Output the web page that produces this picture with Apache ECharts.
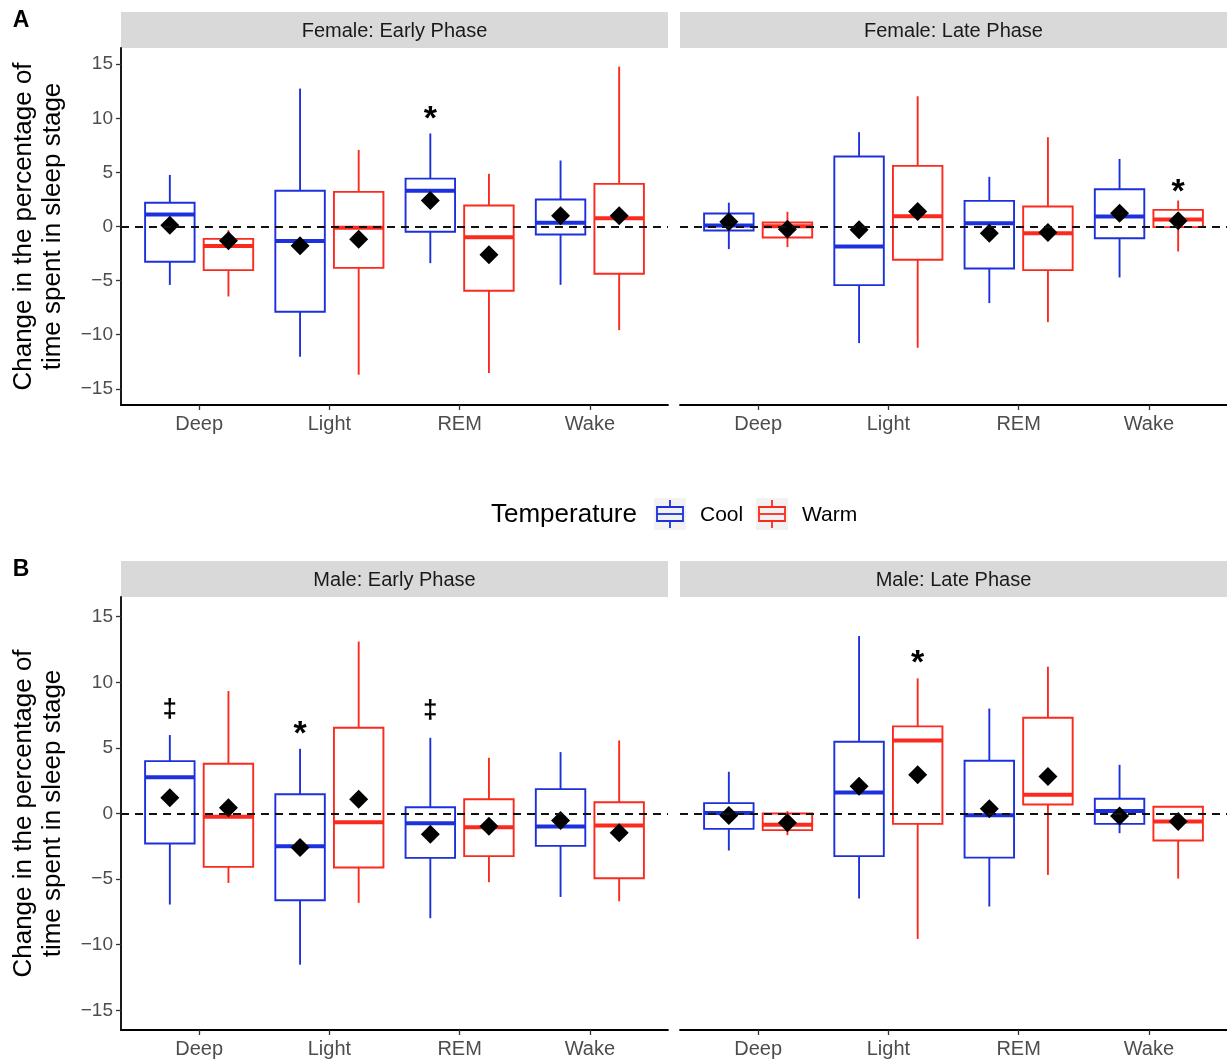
<!DOCTYPE html>
<html>
<head>
<meta charset="utf-8">
<script src="https://cdn.jsdelivr.net/npm/echarts@6/dist/echarts.min.js"></script>
<style>
  html, body { margin: 0; padding: 0; background: #fff; }
  #chart { width: 1227px; height: 1062px; }
</style>
</head>
<body>
<div id="chart"></div>
<script>
// sleep stages on the x axis, facet titles, y ticks
const stages = ['Deep', 'Light', 'REM', 'Wake'];
const panelTitles = ['Female: Early Phase', 'Female: Late Phase', 'Male: Early Phase', 'Male: Late Phase'];
const yTicks = [-15, -10, -5, 0, 5, 10, 15];

// box stats per stage: [lower whisker, Q1, median, Q3, upper whisker]
const femaleEarlyCool = [
  [-5.4, -3.26, 1.1, 2.2, 4.77],
  [-12.04, -7.88, -1.35, 3.3, 12.75],
  [-3.39, -0.49, 3.3, 4.43, 8.6],
  [-5.39, -0.74, 0.34, 2.5, 6.1],
];
const femaleEarlyWarm = [
  [-6.47, -4.03, -1.8, -1.14, -0.34],
  [-13.7, -3.82, -0.12, 3.2, 7.08],
  [-13.55, -5.94, -0.99, 1.94, 4.87],
  [-9.58, -4.37, 0.77, 3.94, 14.78],
];
const femaleLateCool = [
  [-2.09, -0.37, 0.09, 1.2, 2.2],
  [-10.78, -5.42, -1.85, 6.47, 8.72],
  [-7.08, -3.88, 0.31, 2.37, 4.59],
  [-4.71, -1.08, 0.92, 3.45, 6.25],
];
const femaleLateWarm = [
  [-1.91, -1.02, 0.03, 0.37, 1.36],
  [-11.21, -3.08, 0.95, 5.6, 12.04],
  [-8.84, -4.03, -0.62, 1.85, 8.25],
  [-2.31, -0.06, 0.65, 1.54, 2.4],
];
const maleEarlyCool = [
  [-6.94, -2.29, 2.77, 3.99, 5.98],
  [-11.52, -6.61, -2.49, 1.47, 4.93],
  [-7.98, -3.38, -0.74, 0.48, 5.77],
  [-6.36, -2.47, -0.99, 1.86, 4.68],
];
const maleEarlyWarm = [
  [-5.29, -4.07, -0.25, 3.79, 9.33],
  [-6.81, -4.12, -0.66, 6.53, 13.1],
  [-5.24, -3.25, -1.04, 1.09, 4.25],
  [-6.69, -4.93, -0.92, 0.86, 5.57],
];
const maleLateCool = [
  [-2.82, -1.17, 0.03, 0.79, 3.18],
  [-6.48, -3.25, 1.6, 5.47, 13.53],
  [-7.09, -3.36, -0.13, 4.02, 8.0],
  [-1.5, -0.79, 0.2, 1.12, 3.71],
];
const maleLateWarm = [
  [-1.65, -1.27, -0.86, 0.0, 0.18],
  [-9.56, -0.79, 5.57, 6.64, 10.3],
  [-4.68, 0.69, 1.42, 7.3, 11.19],
  [-4.96, -2.06, -0.61, 0.51, 0.56],
];

// group means (black diamonds)
const femaleEarlyCoolMean = [0.12, -1.79, 2.4, 0.99];
const femaleEarlyWarmMean = [-1.32, -1.17, -2.62, 0.99];
const femaleLateCoolMean = [0.43, -0.31, -0.62, 1.23];
const femaleLateWarmMean = [-0.25, 1.39, -0.55, 0.52];
const maleEarlyCoolMean = [1.2, -2.59, -1.58, -0.53];
const maleEarlyWarmMean = [0.43, 1.09, -0.97, -1.47];
const maleLateCoolMean = [-0.15, 2.08, 0.36, -0.2];
const maleLateWarmMean = [-0.71, 2.95, 2.82, -0.61];

// significance marks: [panel, stage, group (0 cool / 1 warm), y, symbol]
const sigMarks = [
  [0, 2, 0, 10.6, '*'],
  [1, 3, 1, 3.9, '*'],
  [2, 0, 0, 7.9, '\u2021'],
  [2, 1, 0, 6.6, '*'],
  [2, 2, 0, 7.8, '\u2021'],
  [3, 1, 1, 12.05, '*'],
];

const COOL = '#1c30dc';
const WARM = '#fb2a1e';
const FONT = '"Liberation Sans", Arial, Helvetica, sans-serif';
const DODGE = 0.225;   // half of the dodge width (0.9)
const BOX_WIDTH = 0.38;

const panels = [
  { cool: femaleEarlyCool, warm: femaleEarlyWarm, coolMean: femaleEarlyCoolMean, warmMean: femaleEarlyWarmMean },
  { cool: femaleLateCool, warm: femaleLateWarm, coolMean: femaleLateCoolMean, warmMean: femaleLateWarmMean },
  { cool: maleEarlyCool, warm: maleEarlyWarm, coolMean: maleEarlyCoolMean, warmMean: maleEarlyWarmMean },
  { cool: maleLateCool, warm: maleLateWarm, coolMean: maleLateCoolMean, warmMean: maleLateWarmMean },
];

// facet layout (px), matches the ggplot panels
const GRIDS = [
  { left: 121, top: 48, width: 547, height: 357 },
  { left: 680, top: 48, width: 547, height: 357 },
  { left: 121, top: 597, width: 547, height: 433 },
  { left: 680, top: 597, width: 547, height: 433 },
];
const STRIP_H = 36;

const xPos = (stage, group) => stage + 1 + (group === 0 ? -DODGE : DODGE);

const renderBox = (color) => (params, api) => {
  const x = api.value(0);
  const low = api.coord([x, api.value(1)]);
  const q1 = api.coord([x, api.value(2)]);
  const med = api.coord([x, api.value(3)]);
  const q3 = api.coord([x, api.value(4)]);
  const high = api.coord([x, api.value(5)]);
  const half = api.size([BOX_WIDTH, 0])[0] / 2;
  const cx = q1[0];
  const thin = { stroke: color, lineWidth: 1.9, fill: null };
  return {
    type: 'group',
    children: [
      { type: 'line', shape: { x1: cx, y1: high[1], x2: cx, y2: q3[1] }, style: thin },
      { type: 'line', shape: { x1: cx, y1: q1[1], x2: cx, y2: low[1] }, style: thin },
      { type: 'rect', shape: { x: cx - half, y: q3[1], width: half * 2, height: q1[1] - q3[1] }, style: thin },
      { type: 'line', shape: { x1: cx - half, y1: med[1], x2: cx + half, y2: med[1] }, style: { stroke: color, lineWidth: 4 } },
    ],
  };
};

const renderMark = (params, api) => {
  const p = api.coord([api.value(0), api.value(1)]);
  const sym = sigMarkText[params.seriesIndex][params.dataIndex];
  const isStar = sym === '*';
  return {
    type: 'text',
    x: p[0],
    y: p[1] + (isStar ? 8 : 0),
    style: {
      text: sym,
      fill: '#000',
      font: isStar ? 'bold 34px ' + FONT : 'bold 26px ' + FONT,
      align: 'center', textAlign: 'center',
      verticalAlign: 'middle', textVerticalAlign: 'middle',
    },
  };
};

const series = [];
const sigMarkText = {};

panels.forEach((pnl, i) => {
  [['Cool', pnl.cool, COOL], ['Warm', pnl.warm, WARM]].forEach(([name, boxes, color], g) => {
    series.push({
      name,
      type: 'custom',
      xAxisIndex: i,
      yAxisIndex: i,
      z: 2,
      silent: true,
      renderItem: renderBox(color),
      encode: { x: 0, y: [1, 2, 3, 4, 5] },
      data: boxes.map((b, s) => [xPos(s, g), ...b]),
      markLine: g === 0 ? {
        silent: true,
        symbol: 'none',
        label: { show: false },
        lineStyle: { color: '#111', type: [8, 6], width: 2 },
        data: [{ yAxis: 0 }],
      } : undefined,
    });
  });
  [[pnl.coolMean, 0], [pnl.warmMean, 1]].forEach(([means, g]) => {
    series.push({
      type: 'scatter',
      xAxisIndex: i,
      yAxisIndex: i,
      z: 4,
      silent: true,
      symbol: 'diamond',
      symbolSize: 19,
      itemStyle: { color: '#000', opacity: 1 },
      data: means.map((m, s) => [xPos(s, g), m]),
    });
  });
  const marks = sigMarks.filter((m) => m[0] === i);
  if (marks.length) {
    sigMarkText[series.length] = marks.map((m) => m[4]);
    series.push({
      type: 'custom',
      xAxisIndex: i,
      yAxisIndex: i,
      z: 5,
      silent: true,
      renderItem: renderMark,
      encode: { x: 0, y: 1 },
      data: marks.map((m) => [xPos(m[1], m[2]), m[3]]),
    });
  }
});

const xAxes = GRIDS.map((_, i) => ({
  gridIndex: i,
  type: 'value',
  min: 0.4,
  max: 4.6,
  axisLine: { show: true, onZero: false, lineStyle: { color: '#000', width: 1.8 } },
  axisTick: { show: true, customValues: [1, 2, 3, 4], length: 5, lineStyle: { color: '#333', width: 1.3 } },
  axisLabel: {
    customValues: [1, 2, 3, 4],
    formatter: (v) => stages[Math.round(v) - 1],
    color: '#4d4d4d', fontSize: 20, fontFamily: FONT, margin: 9,
  },
  splitLine: { show: false },
}));

const yAxes = GRIDS.map((_, i) => {
  const show = i % 2 === 0;
  return {
    gridIndex: i,
    type: 'value',
    min: -16.5,
    max: 16.5,
    axisLine: { show, onZero: false, lineStyle: { color: '#000', width: 1.8 } },
    axisTick: { show, customValues: yTicks, length: 5, lineStyle: { color: '#333', width: 1.3 } },
    axisLabel: {
      show,
      customValues: yTicks,
      formatter: (v) => String(v).replace('-', '\u2212'),
      color: '#4d4d4d', fontSize: 19, fontFamily: FONT, margin: 8,
    },
    splitLine: { show: false },
  };
});

const graphic = [];
GRIDS.forEach((g, i) => {
  graphic.push({
    type: 'rect', silent: true,
    shape: { x: g.left, y: g.top - STRIP_H, width: g.width, height: STRIP_H },
    style: { fill: '#d9d9d9' },
  });
  graphic.push({
    type: 'text', silent: true,
    x: g.left + g.width / 2, y: g.top - STRIP_H / 2 + 1,
    style: {
      text: panelTitles[i], fill: '#1a1a1a', font: '20px ' + FONT,
      align: 'center', textAlign: 'center', verticalAlign: 'middle', textVerticalAlign: 'middle',
    },
  });
});
// y titles, one per row
[GRIDS[0], GRIDS[2]].forEach((g) => {
  graphic.push({
    type: 'text', silent: true,
    x: 38, y: g.top + g.height / 2, rotation: Math.PI / 2,
    style: {
      text: 'Change in the percentage of\ntime spent in sleep stage',
      fill: '#000', font: '26px ' + FONT, lineHeight: 29,
      align: 'center', textAlign: 'center', verticalAlign: 'middle', textVerticalAlign: 'middle',
    },
  });
});
// panel tags
[['A', 21], ['B', 570]].forEach(([t, y]) => {
  graphic.push({
    type: 'text', silent: true, x: 21, y,
    style: {
      text: t, fill: '#000', font: 'bold 23px ' + FONT,
      align: 'center', textAlign: 'center', verticalAlign: 'middle', textVerticalAlign: 'middle',
    },
  });
});
// legend
const LEG_Y = 514;
graphic.push({
  type: 'text', silent: true, x: 491, y: LEG_Y + 1,
  style: {
    text: 'Temperature', fill: '#000', font: '26px ' + FONT,
    align: 'left', textAlign: 'left', verticalAlign: 'middle', textVerticalAlign: 'middle',
  },
});
[['Cool', COOL, 654], ['Warm', WARM, 756]].forEach(([label, color, kx]) => {
  const cx = kx + 16;
  graphic.push({ type: 'rect', silent: true, shape: { x: kx, y: LEG_Y - 16, width: 32, height: 32 }, style: { fill: '#f2f2f2' } });
  graphic.push({ type: 'line', silent: true, shape: { x1: cx, y1: LEG_Y - 14, x2: cx, y2: LEG_Y - 7 }, style: { stroke: color, lineWidth: 1.8 } });
  graphic.push({ type: 'line', silent: true, shape: { x1: cx, y1: LEG_Y + 7, x2: cx, y2: LEG_Y + 14 }, style: { stroke: color, lineWidth: 1.8 } });
  graphic.push({ type: 'rect', silent: true, shape: { x: kx + 3, y: LEG_Y - 7, width: 26, height: 14 }, style: { fill: null, stroke: color, lineWidth: 1.8 } });
  graphic.push({ type: 'line', silent: true, shape: { x1: kx + 3, y1: LEG_Y, x2: kx + 29, y2: LEG_Y }, style: { stroke: color, lineWidth: 1.8 } });
  graphic.push({
    type: 'text', silent: true, x: kx + 46, y: LEG_Y + 1,
    style: {
      text: label, fill: '#000', font: '21px ' + FONT,
      align: 'left', textAlign: 'left', verticalAlign: 'middle', textVerticalAlign: 'middle',
    },
  });
});

const chart = echarts.init(document.getElementById('chart'));
chart.setOption({
  animation: false,
  backgroundColor: '#fff',
  grid: GRIDS.map((g) => ({ ...g, containLabel: false })),
  xAxis: xAxes,
  yAxis: yAxes,
  series,
  graphic,
});
</script>
</body>
</html>
